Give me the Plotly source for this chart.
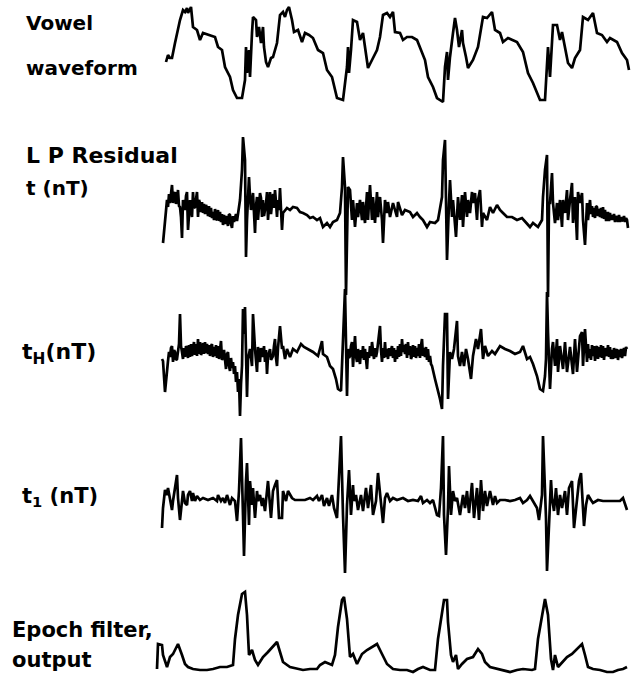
import plotly.graph_objects as go

# ---------------- data: (sample index n, amplitude) readings per trace ----------------
vowel = [(6,-7),(8,0),(10,-3),(12,-3),(15,12),(20,35),(23,45),(25,43),(27,47),(28,42),
         (31,48),(33,28),(37,25),(40,15),(43,22),(50,20),(55,18),(58,8),(62,5),(65,-12),
         (70,-22),(73,-35),(77,-43),(82,-43),(85,-25),(86,8),(87,-18),(89,5),(90,-22),(92,22),
         (93,38),(96,35),(97,18),(99,28),(101,12),(103,28),(104,8),(106,-7),(108,-12),(111,-3),
         (113,-2),(117,12),(120,40),(123,43),(125,38),(127,45),(129,48),(132,35),(134,23),(138,25),
         (142,13),(145,22),(149,20),(153,17),(158,5),(163,2),(167,-15),(172,-22),(177,-43),(183,-45),
         (187,-12),(188,8),(189,-18),(191,5),(193,35),(197,33),(200,15),(203,22),(208,-13),(212,-5),
         (217,5),(220,18),(223,40),(227,42),(230,38),(233,43),(235,23),(240,22),(243,15),(247,18),
         (252,18),(257,15),(262,3),(265,-5),(268,-22),(273,-32),(277,-43),(283,-47),(285,-12),(287,3),
         (288,-25),(290,-2),(293,22),(295,37),(297,25),(299,8),(302,25),(303,12),(306,-2),(308,-13),
         (313,-5),(318,8),(323,38),(327,37),(332,43),(335,25),(340,22),(343,13),(348,17),(357,13),
         (363,3),(368,-18),(373,-28),(380,-45),(385,-45),(388,8),(390,-22),(393,30),(397,30),(400,15),
         (402,23),(404,12),(408,-8),(412,-13),(415,-3),(420,5),(423,38),(428,35),(433,42),(437,22),
         (442,20),(447,13),(450,17),(457,13),(462,2),(467,-5),(469,-15)]

lp_residual = [(3,-31),(5,-8),(7,12),(8,5),(9,18),(10,9),(11,20),(12,27),(13,9),(14,18),(15,20),(16,8),
    (17,12),(18,22),(19,6),(20,5),(21,-5),(22,-26),(23,12),(24,4),(25,2),(26,16),(27,20),(28,-18),(29,6),
    (30,12),(31,2),(32,-5),(33,20),(34,4),(35,5),(36,16),(37,20),(38,-5),(39,12),(40,9),(41,0),(42,10),
    (43,-1),(44,8),(45,-2),(46,7),(47,4),(48,-4),(49,6),(50,-5),(51,4),(52,-6),(53,0),(54,-8),(55,3),
    (56,-7),(57,-8),(58,2),(59,-9),(60,0),(61,-10),(62,-2),(63,-13),(64,-3),(65,-12),(66,-4),(67,-8),
    (68,-14),(69,-2),(70,-3),(71,-12),(72,-16),(73,-4),(74,-10),(75,-6),(76,-2),(77,-9),(78,-1),(79,4),
    (80,12),(82,42),(83,75),(85,52),(86,-45),(87,-8),(89,35),(90,15),(91,2),(93,19),(94,2),(95,-21),
    (96,6),(97,15),(98,-8),(99,2),(100,19),(101,14),(102,-5),(103,12),(104,-4),(105,2),(106,8),(107,20),
    (108,-8),(109,6),(110,20),(111,-2),(112,12),(113,18),(114,4),(115,22),(116,10),(117,-5),(118,12),
    (119,2),(120,24),(121,8),(122,-18),(123,-1),(127,4),(130,2),(133,5),(137,4),(140,0),(143,-1),(147,-3),
    (150,-6),(153,-5),(157,-8),(160,-6),(163,-15),(167,-11),(170,-15),(173,-10),(177,-8),(180,-1),
    (182,25),(183,55),(185,25),(186,-83),(188,25),(190,22),(192,-8),(193,12),(195,-15),(197,9),(198,-5),
    (200,12),(202,-8),(203,10),(205,-11),(207,20),(208,-8),(210,27),(212,-8),(213,15),(215,-11),(217,20),
    (218,-5),(220,15),(222,-8),(223,-31),(225,12),(227,-1),(228,10),(230,-5),(233,9),(237,-5),(238,10),
    (242,-3),(245,2),(250,0),(253,-5),(257,-1),(260,-5),(263,-8),(267,-15),(270,-10),(275,-11),(278,-8),
    (282,15),(283,52),(285,72),(286,25),(287,-48),(289,9),(290,32),(292,-5),(293,12),(296,-25),(298,15),
    (300,-8),(302,17),(303,-15),(305,20),(307,-5),(308,12),(310,-1),(312,20),(313,9),(315,19),(317,-8),
    (318,12),(320,22),(322,-15),(323,-1),(327,-8),(330,5),(333,-1),(337,7),(340,2),(343,-1),(347,-5),
    (352,-5),(357,-8),(362,-6),(367,-11),(370,-15),(373,-11),(378,-15),(382,-8),(383,15),(385,42),
    (387,57),(388,-85),(389,9),(390,9),(392,39),(393,9),(395,-11),(397,9),(398,-8),(400,12),(402,-15),
    (403,12),(405,-1),(407,22),(408,-8),(410,12),(412,29),(413,-11),(415,15),(417,-28),(418,20),(420,9),
    (422,19),(423,-8),(425,-33),(427,9),(428,-8),(430,12),(431,-2),(432,6),(433,-5),(434,4),(435,-6),
    (436,6),(437,5),(438,-4),(439,3),(440,-5),(441,4),(442,-6),(443,5),(444,-7),(445,2),(446,-8),(447,-8),
    (448,0),(449,-9),(450,-1),(451,-8),(452,-3),(453,-8),(454,-2),(455,-10),(456,-4),(457,-6),(458,-10),
    (459,-3),(460,-10),(461,-5),(462,-9),(463,-8),(464,-4),(465,-10),(466,-6),(467,-8),(468,-16)]

hp_residual = [(2,-5),(3,-7),(5,-38),(7,-12),(8,-7),(9,2),(10,-3),(11,6),(12,8),(13,-8),(14,4),(15,2),
    (16,-6),(17,-5),(18,5),(19,10),(20,40),(21,8),(22,2),(23,-5),(24,6),(25,-3),(26,8),(27,5),(28,-4),
    (29,9),(30,-3),(31,10),(32,-2),(33,7),(34,12),(35,-1),(36,10),(37,-2),(38,15),(39,0),(40,12),(41,-1),
    (42,2),(43,11),(44,0),(45,12),(46,1),(47,10),(48,0),(49,9),(50,-2),(51,8),(52,10),(53,-3),(54,7),
    (55,-2),(56,9),(57,-4),(58,8),(59,-5),(60,6),(61,13),(62,-6),(63,-3),(64,4),(65,-10),(66,-15),(67,0),
    (68,2),(69,-12),(70,-17),(71,-4),(72,-14),(73,-8),(74,-20),(75,-12),(76,-28),(77,-18),(78,-38),
    (79,-25),(80,-62),(81,-30),(82,-12),(83,45),(84,20),(85,47),(87,-43),(88,-5),(90,5),(92,-12),(93,40),
    (95,5),(97,-18),(98,7),(100,-8),(101,6),(102,2),(103,-3),(104,8),(105,-8),(106,4),(107,-20),(108,-2),
    (110,5),(111,-6),(113,-2),(114,8),(115,15),(116,-4),(117,-12),(118,6),(120,28),(122,5),(123,8),
    (125,-5),(127,5),(130,-3),(133,5),(137,2),(141,10),(144,7),(148,5),(153,2),(158,-2),(162,13),(163,0),
    (167,-3),(170,-12),(173,-15),(176,-25),(178,-35),(181,-37),(182,-12),(183,5),(185,65),(187,-42),
    (188,5),(189,-4),(190,-2),(191,8),(192,12),(193,-13),(194,6),(195,18),(196,-2),(197,-8),(198,5),
    (199,-6),(200,-10),(201,4),(202,-4),(203,8),(204,-6),(205,5),(206,-10),(207,-15),(208,2),(209,-4),
    (210,8),(211,-2),(212,12),(213,0),(214,-5),(215,6),(216,-3),(217,2),(218,10),(219,14),(220,28),
    (221,4),(222,-8),(223,6),(224,-4),(225,12),(226,-3),(227,5),(228,-5),(229,6),(230,-2),(231,4),
    (232,8),(233,-4),(234,6),(235,-8),(236,4),(237,-5),(238,8),(239,-3),(240,10),(241,-2),(242,15),
    (243,2),(244,9),(245,0),(246,10),(247,-4),(248,12),(249,-1),(250,8),(251,-5),(252,-2),(253,9),
    (254,-3),(255,8),(256,-4),(257,6),(258,-2),(259,10),(260,-4),(261,8),(262,15),(263,-2),(264,6),
    (265,-3),(266,7),(267,-6),(268,5),(269,-8),(270,-2),(271,-10),(272,-12),(275,-25),(277,-32),
    (280,-45),(282,-55),(283,-12),(285,40),(287,40),(288,-45),(290,2),(292,-5),(294,5),(297,33),(298,-2),
    (300,-12),(302,2),(304,-12),(306,5),(308,-5),(311,-25),(313,-2),(316,15),(318,5),(321,25),(323,-5),
    (325,8),(328,-2),(332,3),(335,0),(340,8),(345,5),(350,3),(355,0),(360,2),(363,8),(367,-5),(370,-3),
    (373,-10),(377,-22),(380,-35),(383,-37),(385,-22),(386,-5),(387,62),(388,22),(390,-35),(392,5),
    (393,12),(395,-12),(397,15),(398,-18),(400,8),(403,-15),(405,12),(407,-18),(410,7),(413,-20),
    (415,15),(417,-18),(420,18),(422,22),(423,-12),(425,25),(426,2),(427,-8),(428,10),(429,-4),(430,5),
    (431,-6),(432,9),(433,-2),(434,8),(435,-7),(436,6),(437,8),(438,-5),(439,7),(440,-3),(441,9),
    (442,-4),(443,8),(444,-6),(445,6),(446,0),(447,-2),(448,9),(449,-3),(450,7),(451,-5),(452,4),
    (453,-5),(454,6),(455,-4),(456,3),(457,5),(458,-6),(459,4),(460,-3),(461,5),(462,-4),(463,3),
    (464,6),(465,-2),(466,7),(467,5)]

t1_residual = [(2,-28),(3,-8),(5,10),(7,5),(8,12),(10,-1),(12,-10),(13,-1),(15,15),(17,25),(18,2),
    (20,-20),(22,-1),(23,9),(25,-3),(27,-5),(28,5),(30,9),(32,-1),(33,7),(35,-1),(37,4),(40,0),(43,2),
    (48,0),(53,2),(57,-1),(58,5),(61,-1),(63,2),(65,-3),(67,5),(70,-5),(72,2),(75,-1),(77,-21),(79,9),
    (81,62),(83,-15),(84,-56),(86,19),(87,37),(89,-25),(90,19),(92,-5),(93,12),(95,-18),(97,9),(98,-1),
    (100,5),(102,-6),(103,2),(105,-11),(107,15),(108,19),(111,-18),(113,9),(115,15),(117,20),(119,-18),
    (122,-18),(123,9),(126,-1),(128,9),(132,2),(135,0),(140,0),(145,0),(150,2),(153,0),(157,4),(159,-1),
    (162,5),(164,-6),(167,2),(169,-6),(172,5),(174,-8),(177,-18),(178,2),(181,64),(183,-15),(185,-73),
    (187,-5),(189,30),(191,-15),(193,15),(194,-1),(196,5),(198,-10),(201,5),(203,-11),(206,12),(208,-8),
    (211,15),(213,-15),(216,-1),(218,27),(221,-8),(223,-23),(225,2),(227,7),(230,-1),(233,2),(237,0),
    (243,2),(248,-1),(253,0),(258,-1),(261,4),(263,-3),(267,0),(270,-3),(273,0),(277,-15),(279,-16),
    (281,12),(283,64),(284,-15),(286,-55),(288,-8),(289,34),(291,-15),(293,9),(295,-1),(297,2),(300,-15),
    (303,5),(305,-8),(307,9),(309,-13),(312,17),(314,-18),(317,12),(319,-20),(321,20),(323,-11),(325,9),
    (327,-6),(330,9),(333,-5),(335,4),(337,-3),(340,0),(345,0),(350,-1),(355,0),(360,2),(363,-3),(367,0),
    (370,4),(373,-1),(377,-8),(379,-20),(382,5),(383,64),(386,-18),(387,-71),(389,-15),(391,20),(392,2),
    (394,-11),(396,12),(398,-15),(400,5),(402,-8),(405,9),(407,-15),(409,12),(412,19),(414,-28),(417,-1),
    (419,19),(421,27),(423,-15),(424,-26),(426,-5),(428,5),(431,0),(433,-3),(438,0),(443,-1),(450,-1),
    (455,-1),(460,-1),(463,2),(465,-3),(467,-10)]

epoch_output = [(-3,1),(-2,26),(2,25),(3,15),(7,3),(10,13),(13,16),(18,26),(22,15),(25,6),(28,3),
    (33,1),(40,0),(47,0),(53,1),(60,3),(67,3),(73,5),(75,31),(78,55),(82,76),(85,78),(87,55),(89,15),
    (92,20),(95,10),(98,5),(103,13),(108,18),(113,23),(117,28),(120,18),(123,8),(130,3),(137,1),(143,0),
    (150,1),(157,1),(160,5),(165,8),(172,5),(175,15),(178,43),(182,70),(184,73),(187,51),(190,13),
    (193,16),(197,6),(202,16),(207,20),(212,23),(217,26),(222,16),(227,6),(233,1),(240,0),(247,0),
    (253,-2),(258,1),(263,3),(270,0),(275,0),(278,31),(282,55),(284,70),(287,70),(288,48),(291,15),
    (293,8),(296,15),(298,1),(302,6),(307,11),(313,13),(318,21),(322,16),(325,8),(330,3),(337,1),
    (343,0),(350,-2),(357,0),(363,1),(372,0),(375,1),(378,31),(382,55),(385,71),(388,55),(391,11),
    (393,0),(395,15),(398,3),(403,8),(407,13),(412,16),(417,21),(422,26),(425,15),(428,3),(433,1),
    (440,0),(447,-2),(453,-2),(458,0),(463,1),(467,3)]

labels = ["Vowel", "waveform", "L P Residual", "t (nT)", "t<sub>H</sub>(nT)",
          "t<sub>1</sub> (nT)", "Epoch filter,", "output"]

# ---------------- figure ----------------
W, H = 635, 687
fig = go.Figure()
series = [vowel, lp_residual, hp_residual, t1_residual, epoch_output]
baselines = [55, 212, 354, 500, 670]   # screen row of each trace's zero line
for i, s in enumerate(series):
    n, a = zip(*s)
    fig.add_trace(go.Scatter(x=list(n), y=list(a), mode="lines", xaxis="x",
                             yaxis="y" if i == 0 else f"y{i+1}",
                             line=dict(color="black", width=2.7),
                             hoverinfo="skip", showlegend=False))

layout = dict(width=W, height=H, margin=dict(l=0, r=0, t=0, b=0),
              paper_bgcolor="white", plot_bgcolor="white", showlegend=False,
              xaxis=dict(range=[-160, W - 160], domain=[0, 1], visible=False, fixedrange=True))
for i, b in enumerate(baselines):
    key = "yaxis" if i == 0 else f"yaxis{i+1}"
    ax = dict(range=[b - H, b], domain=[0, 1], visible=False, fixedrange=True)
    if i > 0:
        ax["overlaying"] = "y"
    layout[key] = ax
fig.update_layout(**layout)

label_pos = [(24, 23, 20), (24, 68, 20), (24, 155, 22), (24, 188, 20), (20, 353, 22),
             (20, 497, 21), (10, 630, 21), (10, 660, 21)]
for txt, (px, py, fs) in zip(labels, label_pos):
    fig.add_annotation(text=txt, x=px / W, y=1 - py / H, xref="paper", yref="paper",
                       xanchor="left", yanchor="middle", showarrow=False,
                       font=dict(family="DejaVu Sans", size=fs, color="black", weight="bold"))

fig.write_html("out.html", config={"displayModeBar": False},
               post_script="document.body.style.margin='0';")
